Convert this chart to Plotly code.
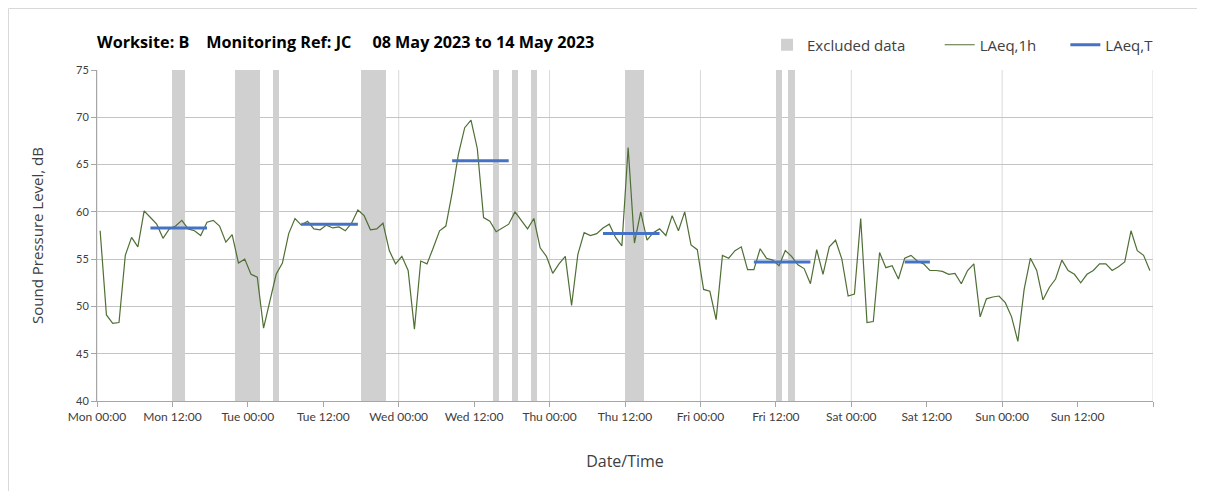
import plotly.graph_objects as go

# ---------------- data ----------------
TICK_HOURS = list(range(0, 169, 12))
TICK_LABELS = ["Mon 00:00", "Mon 12:00", "Tue 00:00", "Tue 12:00", "Wed 00:00", "Wed 12:00",
               "Thu 00:00", "Thu 12:00", "Fri 00:00", "Fri 12:00", "Sat 00:00", "Sat 12:00",
               "Sun 00:00", "Sun 12:00", ""]
DAY_BOUNDARIES = list(range(0, 169, 24))

HOURS = list(range(168))
LAEQ_1H = [
    58.0, 49.1, 48.2, 48.3, 55.4, 57.3, 56.3, 60.1, 59.4, 58.7, 57.2, 58.2,
    58.5, 59.1, 58.2, 58.0, 57.5, 58.9, 59.1, 58.5, 56.8, 57.6, 54.6, 55.0,
    53.4, 53.1, 47.7, 50.4, 53.4, 54.6, 57.7, 59.3, 58.6, 59.0, 58.2, 58.1,
    58.6, 58.3, 58.4, 58.0, 58.8, 60.2, 59.6, 58.1, 58.2, 58.8, 55.9, 54.5,
    55.3, 53.8, 47.6, 54.8, 54.5, 56.2, 58.0, 58.5, 62.0, 66.1, 68.9, 69.7,
    66.7, 59.4, 59.0, 57.9, 58.3, 58.7, 60.0, 59.1, 58.2, 59.3, 56.2, 55.3,
    53.5, 54.5, 55.3, 50.1, 55.5, 57.8, 57.5, 57.7, 58.3, 58.7, 57.3, 56.4,
    66.8, 56.7, 60.0, 57.0, 57.8, 58.2, 57.5, 59.6, 58.0, 60.0, 56.5, 56.0,
    51.8, 51.6, 48.6, 55.4, 55.1, 55.9, 56.3, 53.9, 53.9, 56.1, 55.1, 54.9,
    54.3, 55.9, 55.3, 54.4, 54.0, 52.4, 56.0, 53.4, 56.3, 57.0, 55.0, 51.1,
    51.3, 59.3, 48.3, 48.4, 55.7, 54.1, 54.3, 52.9, 55.1, 55.4, 54.8, 54.5,
    53.8, 53.8, 53.7, 53.4, 53.5, 52.4, 53.8, 54.5, 48.9, 50.8, 51.0, 51.1,
    50.4, 48.9, 46.3, 51.8, 55.1, 53.8, 50.7, 52.0, 52.9, 54.9, 53.8, 53.4,
    52.5, 53.4, 53.8, 54.5, 54.5, 53.8, 54.2, 54.7, 58.0, 55.9, 55.4, 53.8,
]

EXCLUDED_HOURS = [12, 13, 22, 23, 24, 25, 28, 42, 43, 44, 45, 63, 66, 69, 84, 85, 86, 108, 110]

# LAeq,T periods: first hour, last hour (inclusive), level
LAEQ_T_START = [8, 32, 56, 80, 104, 128]
LAEQ_T_END = [17, 41, 65, 89, 113, 132]
LAEQ_T_VALUE = [58.3, 58.7, 65.4, 57.7, 54.7, 54.7]

# ---------------- figure ----------------
FONT = "Lato"
FONT2 = "Open Sans"
GREEN = "#4f6f35"
BLUE = "#4472C4"
GREY_BAND = "#d0d0d0"

ML, MT, PW, PH = 89, 62, 1056, 331  # plot-area geometry (px)
W, H = 1205, 491

centre = lambda h: h + 0.5  # category centre on the hour axis

t_x, t_y = [], []
for s, e, v in zip(LAEQ_T_START, LAEQ_T_END, LAEQ_T_VALUE):
    t_x += [centre(s), centre(e), None]
    t_y += [v, v, None]

fig = go.Figure()
fig.add_trace(go.Bar(
    x=[centre(h) for h in EXCLUDED_HOURS], y=[1] * len(EXCLUDED_HOURS),
    width=1.0, marker=dict(color=GREY_BAND, line=dict(width=0)),
    name="Excluded data", yaxis="y", legend="legend", hoverinfo="skip",
))
fig.add_trace(go.Scatter(
    x=[centre(h) for h in HOURS], y=LAEQ_1H, mode="lines",
    line=dict(color=GREEN, width=1.2), name="LAeq,1h", yaxis="y2",
    legend="legend2", hoverinfo="skip",
))
fig.add_trace(go.Scatter(
    x=t_x, y=t_y, mode="lines", line=dict(color=BLUE, width=3),
    name="LAeq,T", yaxis="y2", legend="legend3", hoverinfo="skip",
))

shapes = [dict(type="line", xref="x", yref="paper", x0=d, x1=d, y0=0, y1=1,
               line=dict(color="#d9d9d9", width=1), layer="below") for d in DAY_BOUNDARIES]
# chart-area border
shapes.append(dict(type="rect", xref="paper", yref="paper",
                   x0=(0.5 - ML) / PW, x1=(W - 0.5 - ML) / PW,
                   y0=(MT + PH - (H - 0.5)) / PH, y1=(MT + PH - 0.5) / PH,
                   line=dict(color="#d9d9d9", width=1), layer="below"))

legend_common = dict(orientation="h", yanchor="middle", y=1.0755, xanchor="left",
                     bgcolor="rgba(0,0,0,0)",
                     font=dict(family=FONT2, size=15, color="#404040"))

fig.update_layout(
    width=W, height=H,
    margin=dict(l=ML, r=W - ML - PW, t=MT, b=H - MT - PH, autoexpand=False),
    paper_bgcolor="white", plot_bgcolor="white",
    font=dict(family=FONT, color="#595959"),
    title=dict(
        text="<b>Worksite: B\u00a0\u00a0\u00a0 Monitoring Ref: JC\u00a0\u00a0\u00a0\u00a0 08 May 2023 to 14 May 2023</b>",
        x=ML / W, xref="container", xanchor="left",
        y=1 - 34 / H, yref="container", yanchor="middle",
        font=dict(family=FONT2, size=16.2, color="#000000"),
    ),
    barmode="overlay", bargap=0,
    showlegend=True,
    legend=dict(legend_common, x=0.6345),
    legend2=dict(legend_common, x=0.798),
    legend3=dict(legend_common, x=0.917),
    xaxis=dict(
        range=[0, 168], tickmode="array", tickvals=TICK_HOURS, ticktext=TICK_LABELS,
        ticks="outside", ticklen=5, tickcolor="#a6a6a6", showline=True,
        linecolor="#a6a6a6", showgrid=False, zeroline=False, automargin=False,
        tickfont=dict(family=FONT, size=12, color="#404040"),
        title=dict(text="Date/Time", standoff=32,
                   font=dict(family=FONT2, size=16, color="#404040")),
    ),
    yaxis=dict(range=[0, 1], visible=False, fixedrange=True),
    yaxis2=dict(
        overlaying="y", side="left", anchor="x", automargin=False,
        range=[40, 75], tick0=40, dtick=5, ticks="outside", ticklen=5,
        tickcolor="#a6a6a6", showline=True, linecolor="#a6a6a6",
        showgrid=True, gridcolor="#c4c4c4", gridwidth=1, zeroline=False,
        tickfont=dict(family=FONT, size=11, color="#404040"),
        title=dict(text="Sound Pressure Level, dB", standoff=28,
                   font=dict(family=FONT2, size=15, color="#404040")),
    ),
    shapes=shapes,
)

fig.write_html("out.html")
